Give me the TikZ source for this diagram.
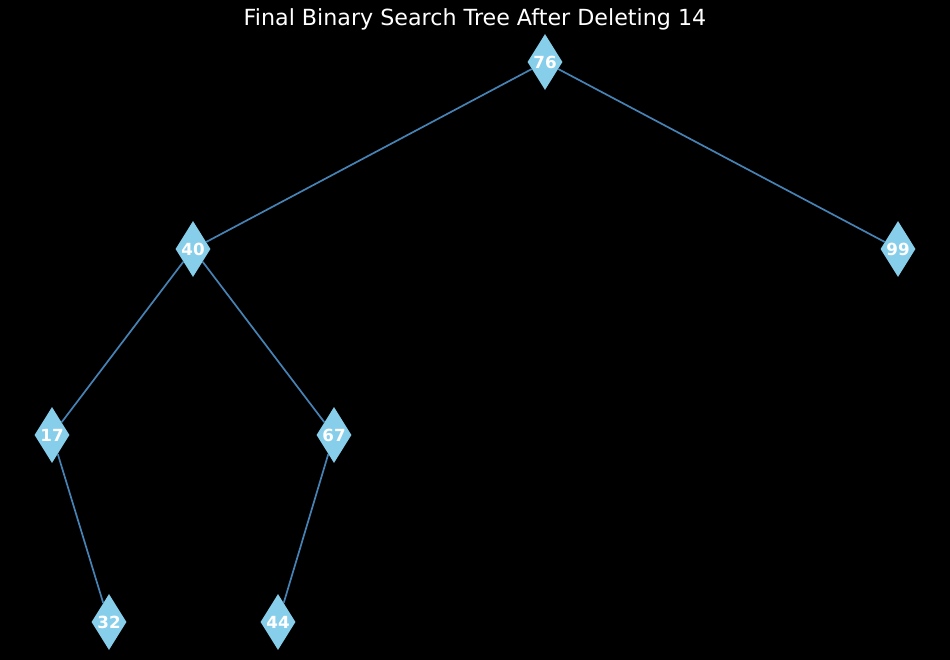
\documentclass[tikz,border=0pt]{standalone}
\usepackage{fontspec}
\setmainfont{DejaVu Sans}
\usetikzlibrary{shapes.geometric}
\definecolor{skyblue}{RGB}{135,206,235}
\definecolor{steelblue}{RGB}{70,130,180}

\begin{document}
\begin{tikzpicture}[x=1pt,y=-1pt,
  key/.style={diamond,fill=skyblue,inner sep=0pt,minimum width=35pt,minimum height=56pt,
    label={[text=white,font=\fontsize{16.7}{18}\selectfont\bfseries]center:#1}},
  link/.style={draw=steelblue,line width=1.7pt}]
% background and frame
\fill[black] (0,0) rectangle (950,660);
\useasboundingbox (0,0) rectangle (950,660);
\node[text=white,font=\fontsize{22.2}{24}\selectfont] (title) at (475,19) {Final Binary Search Tree After Deleting 14};
% keys
\node[key=76] (k76) at (545,62) {};
\node[key=40] (k40) at (193,249) {};
\node[key=99] (k99) at (898,249) {};
\node[key=17] (k17) at (52,435) {};
\node[key=67] (k67) at (334,435) {};
\node[key=32] (k32) at (109,622) {};
\node[key=44] (k44) at (278,622) {};
% links
\draw[link] (k76) -- (k40);
\draw[link] (k76) -- (k99);
\draw[link] (k40) -- (k17);
\draw[link] (k40) -- (k67);
\draw[link] (k17) -- (k32);
\draw[link] (k67) -- (k44);
\end{tikzpicture}
\end{document}
